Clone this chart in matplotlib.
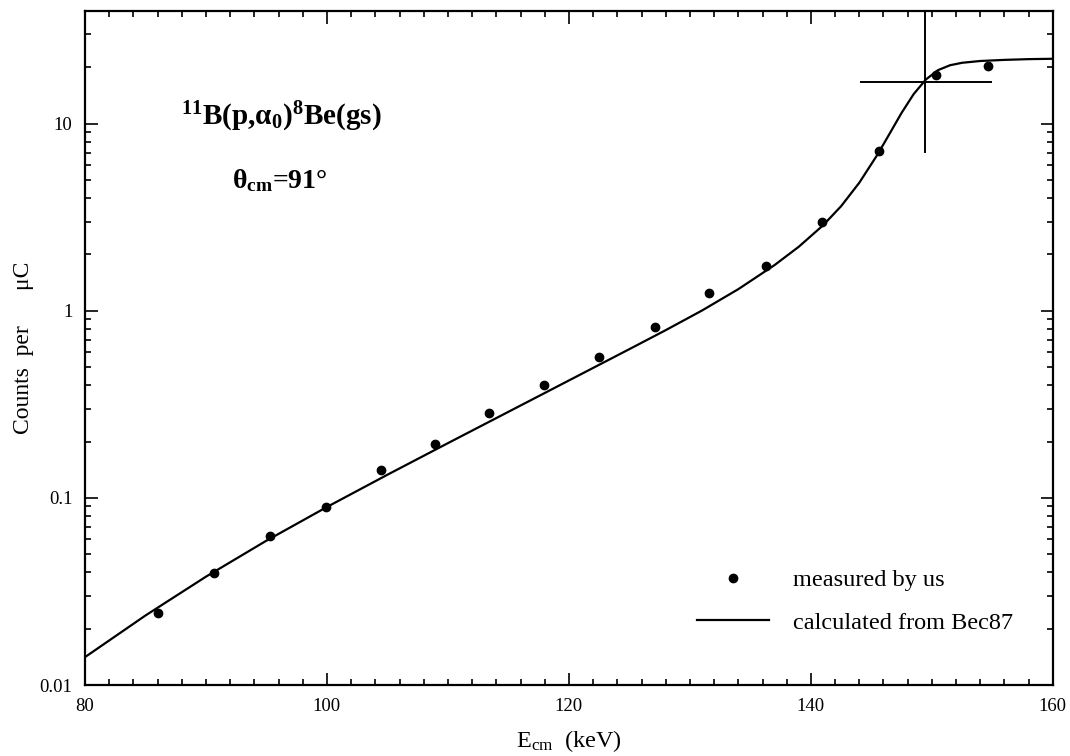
import matplotlib
matplotlib.use('Agg')
from matplotlib import pyplot
from matplotlib.lines import Line2D
from matplotlib.ticker import LogLocator, MultipleLocator, FixedFormatter, FixedLocator

pyplot.rcParams['font.family'] = ['Liberation Serif', 'DejaVu Serif']
pyplot.rcParams['mathtext.fontset'] = 'custom'
pyplot.rcParams['mathtext.rm'] = 'Liberation Serif'
pyplot.rcParams['mathtext.bf'] = 'Liberation Serif:bold'
pyplot.rcParams['mathtext.it'] = 'Liberation Serif:italic'

# measured points (E_cm in keV, counts per uC)
meas_e = [86.0, 90.7, 95.3, 99.9, 104.5, 108.9, 113.4, 117.9, 122.5, 127.1,
          131.6, 136.3, 140.9, 145.6, 150.3, 154.6]
meas_y = [0.0242, 0.0396, 0.0625, 0.0892, 0.141, 0.194, 0.283, 0.400, 0.564,
          0.815, 1.24, 1.73, 2.97, 7.18, 18.1, 20.4]

# calculated curve (Bec87)
calc_e = [80, 85, 90, 95, 100, 105, 110, 115, 120, 125, 128, 131, 134, 137,
          139, 141, 142.5, 144, 145.5, 146.5, 147.5, 148.5, 149.5, 150.5,
          151.5, 152.5, 154, 156, 158, 160]
calc_y = [0.01409, 0.02352, 0.03793, 0.05909, 0.08943, 0.1330, 0.1962, 0.2885,
          0.4243, 0.6240, 0.7880, 1.0035, 1.305, 1.756, 2.200, 2.861, 3.625,
          4.836, 6.832, 8.831, 11.44, 14.41, 17.22, 19.32, 20.53, 21.16, 21.63,
          21.93, 22.13, 22.23]

# crosshair marking the resonance
cross_e = 149.4
cross_y = 16.8
cross_e_span = [144.1, 154.9]
cross_y_span = [7.1, 40.0]

fig = pyplot.figure(figsize=(10.7, 7.56), dpi=100)
ax = fig.add_axes([0.0794, 0.0939, 0.9046, 0.8915])

ax.plot(calc_e, calc_y, color='black', lw=1.6)
ax.plot(meas_e, meas_y, 'o', color='black', ms=6, mec='black')
ax.plot(cross_e_span, [cross_y, cross_y], color='black', lw=1.4)
ax.plot([cross_e, cross_e], cross_y_span, color='black', lw=1.4)

ax.set_yscale('log')
ax.set_xlim(80, 160)
ax.set_ylim(0.01, 40)

ax.xaxis.set_major_locator(MultipleLocator(20))
ax.xaxis.set_minor_locator(MultipleLocator(2))
ax.yaxis.set_major_locator(FixedLocator([0.01, 0.1, 1, 10]))
ax.yaxis.set_major_formatter(FixedFormatter(['0.01', '0.1', '1', '10']))
ax.yaxis.set_minor_locator(LogLocator(base=10, subs=range(2, 10)))
ax.yaxis.set_minor_formatter(FixedFormatter([]))

ax.tick_params(which='both', direction='in', top=True, right=True,
               labelsize=13.5, width=1.2)
ax.tick_params(which='major', length=9)
ax.tick_params(which='minor', length=4.5)
ax.tick_params(axis='y', which='major', pad=9)
ax.tick_params(axis='x', which='major', pad=9)
for sp in ax.spines.values():
    sp.set_linewidth(1.6)

ax.set_xlabel(r'E$_{\rm cm}$  (keV)', fontsize=17.5, labelpad=10)
ax.set_ylabel('Counts  per      μC', fontsize=17, labelpad=4)

ax.text(0.2025, 0.843, r'$^{\mathbf{11}}$B(p,α$_{\mathbf{0}}$)$^{\mathbf{8}}$Be(gs)',
        transform=ax.transAxes, ha='center', va='center', fontsize=21, fontweight='bold')
ax.text(0.2015, 0.749, r'θ$_{\mathbf{cm}}$=91°',
        transform=ax.transAxes, ha='center', va='center', fontsize=20, fontweight='bold')

handles = [Line2D([], [], ls='none', marker='o', color='black', ms=6),
           Line2D([], [], color='black', lw=1.6)]
ax.legend(handles, ['measured by us', 'calculated from Bec87'],
          loc='upper left', bbox_to_anchor=(0.6196, 0.19), frameon=False,
          fontsize=17.5, handlelength=2.96, handletextpad=1.0, labelspacing=0.85,
          borderpad=0)

pyplot.savefig('out.png', dpi=100)
